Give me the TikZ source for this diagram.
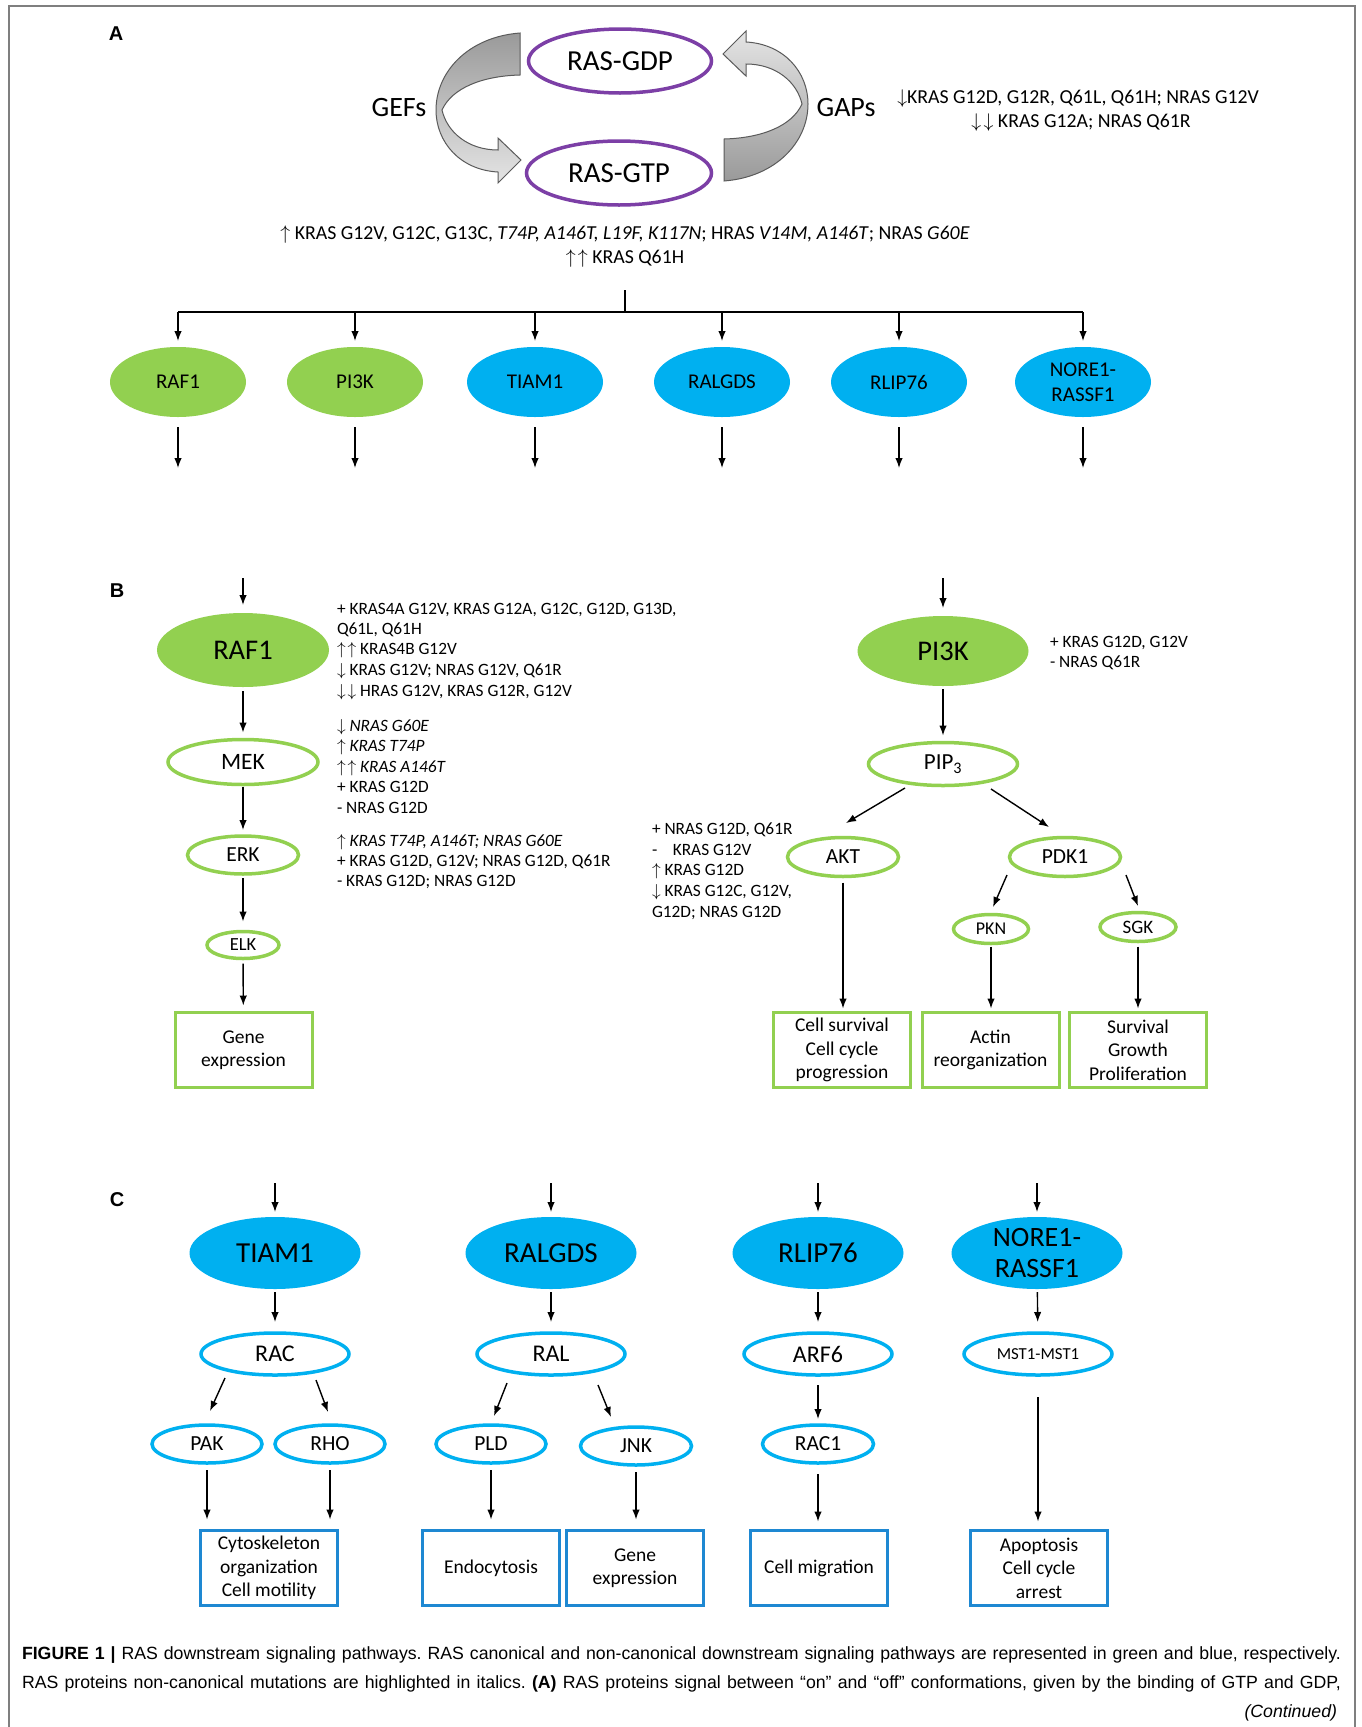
\RequirePackage{fix-cm}
\documentclass[tikz,border=0pt]{standalone}
\usepackage{fontspec}
\setmainfont{Carlito}
\newfontfamily\capfont{Liberation Sans}
\usetikzlibrary{shapes.geometric,arrows.meta,calc}
\definecolor{rasgreen}{HTML}{92D050}
\definecolor{rasblue}{HTML}{00B0F0}
\definecolor{boxblue}{HTML}{1E88D2}
\definecolor{raspurple}{HTML}{7C3FA6}
\definecolor{adark}{HTML}{9A9A9A}
\definecolor{alight}{HTML}{E4E4E4}
\definecolor{aline}{HTML}{5A5A5A}
\definecolor{framegray}{HTML}{7F7F7F}
\newcommand\myfs[1]{\fontsize{#1}{#1}\selectfont}
\newcommand\boxfont{\fontsize{19.5}{23.5}\selectfont}
\newcommand\annfont{\fontsize{17.3}{20.5}\selectfont}
\newcommand\afont{\fontsize{19.8}{24}\selectfont}
\newcommand\myup{$\uparrow$}
\newcommand\mydn{$\downarrow$}
\newcommand\myupup{$\uparrow\mkern2mu\uparrow$}
\newcommand\mydndn{$\downarrow\mkern2mu\downarrow$}
\frenchspacing
\begin{document}
\begin{tikzpicture}[x=1pt,y=-1pt,
  every node/.style={inner sep=0pt,outer sep=0pt},
  link/.style={line width=1.4pt},
  arr/.style={line width=1.4pt,-{Latex[length=10pt,width=7.5pt]}},
  gsolid/.style={ellipse,fill=rasgreen},
  bsolid/.style={ellipse,fill=rasblue},
  gring/.style={ellipse,draw=rasgreen,line width=3.5pt,fill=white},
  bring/.style={ellipse,draw=rasblue,line width=3.5pt,fill=white},
  pring/.style={ellipse,draw=raspurple,line width=3.5pt,fill=white,font=\myfs{29}},
  gbox/.style={draw=rasgreen,line width=3pt,minimum width=137pt,minimum height=75pt,align=center,font=\boxfont},
  bbox/.style={draw=boxblue,line width=3pt,minimum width=137pt,minimum height=75pt,align=center,font=\boxfont},
  sz/.style 2 args={minimum width=#1pt,minimum height=#2pt},
  ann/.style={anchor=base west,font=\annfont},
  panel/.style={font=\capfont\bfseries\myfs{20}},
  curvy/.style={draw=aline,line width=1pt},
  captext/.style={font=\capfont\myfs{17.7}},
]
\useasboundingbox (0,0) rectangle (1362,1727);
\fill[white] (0,0) rectangle (1362,1727);
\draw[framegray,line width=1.5pt] (9,1727) -- (9,6) -- (1355,6) -- (1355,1727);

% ---------------- Panel A ----------------
\node[panel] (lblA) at (116,34) {A};
\shadedraw[curvy,top color=adark,bottom color=alight]
  (520,33) .. controls (468,37) and (436,72) .. (436,110)
  .. controls (436,142) and (460,170) .. (498,172)
  -- (498,183) -- (521,160) -- (498,138) -- (498,150)
  .. controls (468,150) and (447,132) .. (442,110)
  .. controls (452,88) and (482,76) .. (520,75) -- cycle;
\shadedraw[curvy,top color=alight,bottom color=adark]
  (724,181) .. controls (776,177) and (808,142) .. (808,104)
  .. controls (808,72) and (784,44) .. (746,42)
  -- (746,31) -- (723,54) -- (746,76) -- (746,64)
  .. controls (776,64) and (797,82) .. (802,104)
  .. controls (792,126) and (762,138) .. (724,139) -- cycle;
\node[pring,sz={183}{64}] (gdp) at (620,61) {RAS-GDP};
\node[pring,sz={185}{64}] (gtp) at (619,173) {RAS-GTP};
\node[font=\myfs{28}] (gefs) at (399,108) {GEFs};
\node[font=\myfs{28}] (gaps) at (846,108) {GAPs};
\node[anchor=base,font=\afont] (gap1) at (1078,103) {\mydn KRAS G12D, G12R, Q61L, Q61H; NRAS G12V};
\node[anchor=base,font=\afont] (gap2) at (1081,127) {\mydndn{} KRAS G12A; NRAS Q61R};
\node[anchor=base,font=\afont] (mut1) at (625,239) {\myup{} KRAS G12V, G12C, G13C, \textit{T74P, A146T, L19F, K117N}; HRAS \textit{V14M, A146T}; NRAS \textit{G60E}};
\node[anchor=base,font=\afont] (mut2) at (625,263) {\myupup{} KRAS Q61H};

\coordinate (jt) at (625,290);
\coordinate (jm) at (625,312);
\coordinate (jl) at (178,312);
\coordinate (jr) at (1083,312);
\draw[link] (jt) -- (jm);
\draw[link] (jl) -- (jr);

\node[gsolid,sz={136}{70},font=\myfs{21}] (sraf) at (178,382) {RAF1};
\node[gsolid,sz={136}{70},font=\myfs{21}] (spi) at (355,382) {PI3K};
\node[bsolid,sz={136}{70},font=\myfs{21}] (stiam) at (535,382) {TIAM1};
\node[bsolid,sz={136}{70},font=\myfs{21}] (sral) at (722,382) {RALGDS};
\node[bsolid,sz={136}{70},font=\myfs{21}] (srlip) at (899,382) {RLIP76};
\node[bsolid,sz={136}{70},font=\fontsize{21}{25}\selectfont,align=center] (snore) at (1083,382) {NORE1-\\RASSF1};

\foreach \n/\x in {sraf/178,spi/355,stiam/535,sral/722,srlip/899,snore/1083}{
  \coordinate (t\n) at (\x,312);
  \coordinate (b\n) at (\x,468);
  \draw[arr,shorten >=6pt] (t\n) -- (\n);
  \draw[arr,shorten <=10pt] (\n) -- (b\n);
}

% ---------------- Panel B ----------------
\node[panel] (lblB) at (117,591) {B};
\coordinate (rafin) at (243,578);
\node[gsolid,sz={172}{74},font=\myfs{28.5}] (raf) at (243,650) {RAF1};
\node[gring,sz={150}{45},font=\myfs{23.5}] (mek) at (243,762) {MEK};
\node[gring,sz={111}{38},font=\myfs{21.5}] (erk) at (243,855) {ERK};
\node[gring,sz={72}{27},font=\myfs{18.5}] (elk) at (243,945) {ELK};
\node[gbox] (gene1) at (243.5,1050) {Gene\\expression};
\draw[arr,shorten >=8pt] (rafin) -- (raf);
\draw[arr,shorten <=4pt,shorten >=7pt] (raf) -- (mek);
\draw[arr,shorten <=2pt,shorten >=6pt] (mek) -- (erk);
\draw[arr,shorten <=4pt,shorten >=10pt] (erk) -- (elk);
\draw[arr,shorten <=5pt,shorten >=7pt] (elk) -- (gene1);

\node[ann] (ra1) at (337,614) {+ KRAS4A G12V, KRAS G12A, G12C, G12D, G13D,};
\node[ann] (ra2) at (337,634) {Q61L, Q61H};
\node[ann] (ra3) at (337,654) {\myupup{} KRAS4B G12V};
\node[ann] (ra4) at (337,675) {\mydn{} KRAS G12V; NRAS G12V, Q61R};
\node[ann] (ra5) at (337,696) {\mydndn{} HRAS G12V, KRAS G12R, G12V};
\node[ann] (rb1) at (337,731) {\mydn{} \textit{NRAS G60E}};
\node[ann] (rb2) at (337,751) {\myup{} \textit{KRAS T74P}};
\node[ann] (rb3) at (337,772) {\myupup{} \textit{KRAS A146T}};
\node[ann] (rb4) at (337,792) {+ KRAS G12D};
\node[ann] (rb5) at (337,813) {- NRAS G12D};
\node[ann] (rc1) at (337,846) {\myup{} \textit{KRAS T74P, A146T; NRAS G60E}};
\node[ann] (rc2) at (337,866) {+ KRAS G12D, G12V; NRAS G12D, Q61R};
\node[ann] (rc3) at (337,886) {- KRAS G12D; NRAS G12D};

\coordinate (piin) at (943,578);
\node[gsolid,sz={171}{70},font=\myfs{28.5}] (pi3k) at (943,651) {PI3K};
\node[gring,sz={149}{43},font=\myfs{23}] (pip) at (943,764) {PIP\textsubscript{3}};
\node[gring,sz={111}{39},font=\myfs{21.5}] (akt) at (843,857) {AKT};
\node[gring,sz={111}{39},font=\myfs{21.5}] (pdk) at (1065,857) {PDK1};
\node[gring,sz={75}{29},font=\myfs{18}] (pkn) at (991,929) {PKN};
\node[gring,sz={76}{29},font=\myfs{19}] (sgk) at (1138,927) {SGK};
\node[gbox] (bcs) at (842,1050) {Cell survival\\Cell cycle\\progression};
\node[gbox] (bact) at (990.5,1050) {Actin\\reorganization};
\node[gbox] (bsurv) at (1138,1050) {Survival\\Growth\\Proliferation};
\draw[arr,shorten >=8pt] (piin) -- (pi3k);
\draw[arr,shorten <=3pt,shorten >=7pt] (pi3k) -- (pip);
\draw[arr] ($(pip)+(-38,24)$) -- ($(akt)+(3,-34)$);
\draw[arr] ($(pip)+(48,25)$) -- ($(pdk)+(-16,-30)$);
\draw[arr] ($(pdk)+(-58,18)$) -- ($(pkn)+(2,-22)$);
\draw[arr] ($(pdk)+(61,18)$) -- ($(sgk)+(0,-21)$);
\draw[arr,shorten <=6pt,shorten >=4pt] (akt) -- (akt |- bcs.north);
\draw[arr,shorten <=3pt,shorten >=4pt] (pkn) -- (pkn |- bact.north);
\draw[arr,shorten <=5pt,shorten >=4pt] (sgk) -- (sgk |- bsurv.north);

\node[ann] (pa1) at (1050,647) {+ KRAS G12D, G12V};
\node[ann] (pa2) at (1050,667) {- NRAS Q61R};
\node[ann] (ka1) at (652,834) {+ NRAS G12D, Q61R};
\node[ann] (ka2) at (652,855) {-\hspace{0.9em}KRAS G12V};
\node[ann] (ka3) at (652,875) {\myup{} KRAS G12D};
\node[ann] (ka4) at (652,896) {\mydn{} KRAS G12C, G12V,};
\node[ann] (ka5) at (652,917) {G12D; NRAS G12D};

% ---------------- Panel C ----------------
\node[panel] (lblC) at (117,1200) {C};
\node[bsolid,sz={171}{72},font=\myfs{29}] (tiam) at (275,1253) {TIAM1};
\node[bsolid,sz={171}{72},font=\myfs{29}] (ralgds) at (551,1253) {RALGDS};
\node[bsolid,sz={171}{72},font=\myfs{29}] (rlip) at (818,1253) {RLIP76};
\node[bsolid,sz={171}{72},font=\fontsize{28}{31}\selectfont,align=center] (nore) at (1037,1253) {NORE1-\\RASSF1};
\foreach \n/\x in {tiam/275,ralgds/551,rlip/818,nore/1037}{
  \coordinate (in\n) at (\x,1183);
  \draw[arr,shorten >=5pt] (in\n) -- (\n);
}
\node[bring,sz={148}{42},font=\myfs{24}] (rac) at (275,1354) {RAC};
\node[bring,sz={148}{42},font=\myfs{24}] (ral) at (551,1354) {RAL};
\node[bring,sz={148}{42},font=\myfs{24}] (arf) at (818,1354) {ARF6};
\node[bring,sz={148}{42},font=\myfs{16.8}] (mst) at (1038,1354) {MST1-MST1};
\draw[arr,shorten <=3pt,shorten >=11pt] (tiam) -- (rac);
\draw[arr,shorten <=3pt,shorten >=11pt] (ralgds) -- (ral);
\draw[arr,shorten <=3pt,shorten >=11pt] (rlip) -- (arf);
\draw[arr,shorten <=3pt,shorten >=11pt] (nore) -- (mst);

\node[bring,sz={110}{38},font=\myfs{21.5}] (pak) at (207,1444) {PAK};
\node[bring,sz={110}{38},font=\myfs{21.5}] (rho) at (330,1444) {RHO};
\node[bring,sz={110}{38},font=\myfs{21.5}] (pld) at (491,1444) {PLD};
\node[bring,sz={111}{38},font=\myfs{21.5}] (jnk) at (636,1446) {JNK};
\node[bring,sz={111}{38},font=\myfs{21.5}] (rac1) at (818,1444) {RAC1};
\draw[arr] ($(rac)+(-50,24)$) -- ($(pak)+(3,-33)$);
\draw[arr] ($(rac)+(41,26)$) -- ($(rho)+(-2,-32)$);
\draw[arr] ($(ral)+(-44,29)$) -- ($(pld)+(3,-28)$);
\draw[arr] ($(ral)+(47,31)$) -- ($(jnk)+(-25,-29)$);
\draw[arr,shorten <=10pt,shorten >=6pt] (arf) -- (rac1);

\node[bbox] (bcyto) at (269,1568) {Cytoskeleton\\organization\\Cell motility};
\node[bbox] (bendo) at (491,1568) {Endocytosis};
\node[bbox] (bgene2) at (635,1568) {Gene\\expression};
\node[bbox] (bmig) at (819,1568) {Cell migration};
\node[bbox] (bapop) at (1039,1568) {Apoptosis\\Cell cycle\\arrest};
\draw[arr,shorten <=7pt,shorten >=11pt] (pak) -- (pak |- bcyto.north);
\draw[arr,shorten <=7pt,shorten >=11pt] (rho) -- (rho |- bcyto.north);
\draw[arr,shorten <=7pt,shorten >=11pt] (pld) -- (pld |- bendo.north);
\draw[arr,shorten <=7pt,shorten >=11pt] (jnk) -- (jnk |- bgene2.north);
\draw[arr,shorten <=11pt,shorten >=9pt] (rac1) -- (rac1 |- bmig.north);
\draw[arr,shorten <=22pt,shorten >=9pt] (mst) -- (mst |- bapop.north);

% ---------------- Caption ----------------
\node[anchor=base west,captext] (cap1) at (22,1659) {\makebox[1319pt][s]{\textbf{FIGURE 1 |} RAS downstream signaling pathways. RAS canonical and non-canonical downstream signaling pathways are represented in green and blue, respectively.}};
\node[anchor=base west,captext] (cap2) at (22,1688) {\makebox[1319pt][s]{RAS proteins non-canonical mutations are highlighted in italics. \textbf{(A)} RAS proteins signal between “on” and “off” conformations, given by the binding of GTP and GDP,}};
\node[anchor=base east,captext] (cap3) at (1337,1717) {\textit{(Continued)}};
\end{tikzpicture}
\end{document}
